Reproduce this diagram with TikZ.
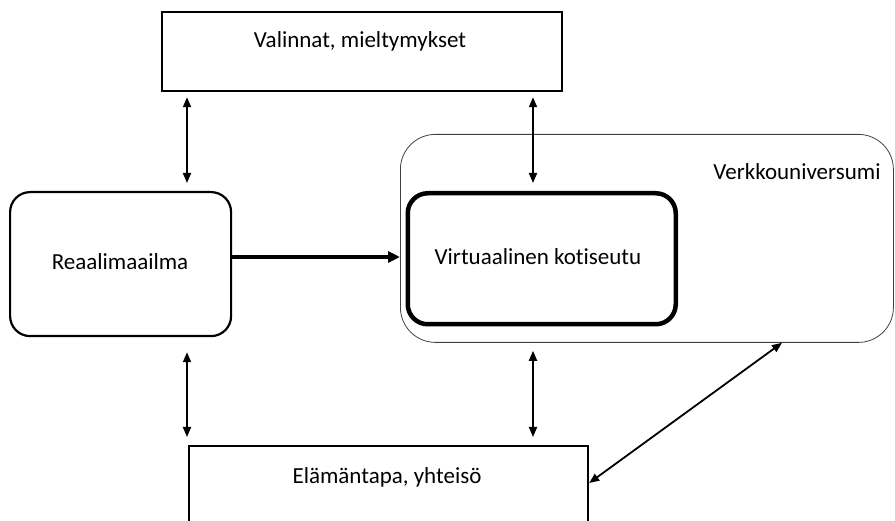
\documentclass[tikz,border=0pt]{standalone}
\usepackage{fontspec}
\setmainfont[Ligatures={NoCommon}]{Carlito}
\usetikzlibrary{arrows.meta}
\begin{document}
\begin{tikzpicture}[x=1pt,y=-1pt,
  box/.style={draw, line width=2.2pt, inner sep=0pt, anchor=north west},
  lbl/.style={font=\fontsize{23}{27}\selectfont, inner sep=0pt, anchor=base},
  dbl/.style={{Triangle[length=10pt,width=8pt]}-{Triangle[length=10pt,width=8pt]}, line width=1.8pt},
  fwd/.style={-{Triangle[length=12pt,width=11pt]}, line width=3.5pt}
]
\useasboundingbox (0,0) rectangle (895,521);
\clip (0,0) rectangle (895,521);
% boxes
\node[box, minimum width=400pt, minimum height=79pt] (top) at (161,11) {};
\node[box, rounded corners=20pt, minimum width=221pt, minimum height=144pt] (real) at (9,191) {};
\node[box, draw=black!75, line width=0.8pt, rounded corners=35pt, minimum width=493pt, minimum height=208pt] (net) at (400,134) {};
\node[box, line width=4.5pt, rounded corners=20pt, minimum width=268pt, minimum height=131pt] (virt) at (405.5,191) {};
\node[box, minimum width=399pt, minimum height=120pt] (bot) at (188,445) {};
% labels
\node[lbl] (tTop) at (360,48) {Valinnat, mieltymykset};
\node[lbl] (tReal) at (120,270) {Reaalimaailma};
\node[lbl] (tVirt) at (538,265) {Virtuaalinen kotiseutu};
\node[lbl] (tNet) at (797,180) {Verkkouniversumi};
\node[lbl] (tBot) at (387,483) {Elämäntapa, yhteisö};
% connectors
\draw[dbl, shorten <=5pt, shorten >=8pt] (top.south -| 187,0) -- (real.north -| 187,0);
\draw[dbl, shorten <=5pt, shorten >=8pt] (top.south -| 533,0) -- (virt.north -| 533,0);
\draw[fwd] (real.east |- 0,257) -- (net.west |- 0,257);
\draw[dbl, shorten <=15pt, shorten >=8pt] (real.south -| 187,0) -- (bot.north -| 187,0);
\draw[dbl, shorten <=8pt, shorten >=8pt] (net.south -| 533,0) -- (bot.north -| 533,0);
\coordinate (d1) at (bot.north east |- 0,483);
\coordinate (d2) at (net.south -| 782,0);
\draw[dbl] (d1) -- (d2);
\end{tikzpicture}
\end{document}
